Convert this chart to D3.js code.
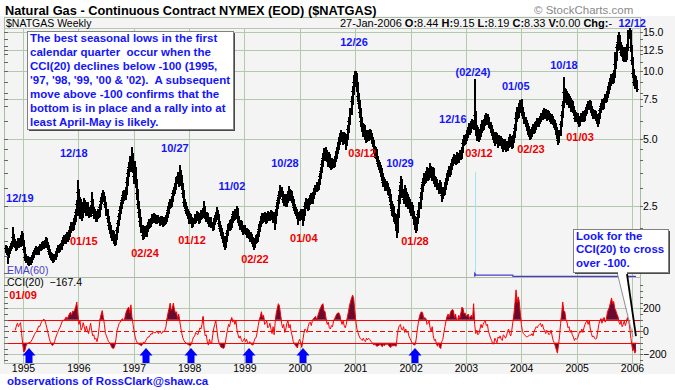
<!DOCTYPE html>
<html>
<head>
<meta charset="utf-8">
<script src="https://cdn.jsdelivr.net/npm/d3@7"></script>
<style>
    body { margin: 0; background: #fff; }
    svg { display: block; }
</style>
</head>
<body>
<svg id="chart" width="675" height="390"></svg>
<script>
(function () {
    // ---- data: weekly bars, first bar is the week ending 1994-09-02 ----
    const firstWeek = '1994-09-02';
    const lastOpen = 8.44;

    const closes = [
        /*1994*/ 1.62,1.56,1.50,1.58,1.62,1.66,1.70,1.82,1.74,1.68,1.64,1.70,1.74,1.68,1.80,1.85,1.72,1.60,
        /*1995*/ 1.48,1.44,1.46,1.42,1.40,1.44,1.42,1.47,1.50,1.55,1.58,1.60,1.56,1.62,1.66,1.63,1.68,1.70,1.66,1.72,1.76,1.70,1.64,1.58,1.52,1.48,1.50,1.44,1.47,1.52,1.58,1.62,1.60,1.66,1.64,1.70,1.76,1.80,1.74,1.82,1.86,1.80,1.88,1.96,2.05,2.00,2.12,2.20,2.35,2.55,2.90,2.45,
        /*1996*/ 2.40,2.55,2.30,2.42,2.60,2.48,2.35,2.52,2.40,2.30,2.45,2.62,2.40,2.28,2.32,2.20,2.26,2.35,2.30,2.48,2.62,2.75,2.82,2.70,2.55,2.35,2.20,2.05,1.98,1.90,1.82,1.88,1.78,1.72,1.80,1.95,2.10,2.25,2.40,2.50,2.65,2.80,2.75,2.90,3.20,3.50,3.75,3.95,3.80,4.20,3.70,3.40,
        /*1997*/ 3.60,3.20,2.85,2.55,2.35,2.15,2.00,1.85,1.90,1.95,1.88,1.98,2.05,2.12,2.08,2.15,2.22,2.18,2.26,2.20,2.15,2.22,2.18,2.12,2.20,2.15,2.10,2.18,2.14,2.20,2.28,2.40,2.50,2.60,2.55,2.70,2.85,2.95,3.05,3.25,3.40,3.20,3.55,3.35,3.10,2.85,2.60,2.55,2.40,2.35,2.30,2.20,
        /*1998*/ 2.25,2.18,2.10,2.15,2.22,2.20,2.30,2.25,2.18,2.24,2.32,2.28,2.35,2.45,2.30,2.22,2.28,2.15,2.10,2.18,2.08,2.02,2.12,2.20,2.28,2.35,2.25,2.10,2.00,1.95,1.85,1.80,1.72,1.68,1.78,1.90,2.00,2.10,2.05,2.18,2.30,2.25,2.35,2.28,2.40,2.20,2.12,2.05,2.10,2.00,1.95,1.98,
        /*1999*/ 1.95,1.88,1.92,1.85,1.80,1.84,1.76,1.72,1.68,1.74,1.80,1.78,1.88,1.98,2.08,2.15,2.25,2.20,2.28,2.18,2.24,2.30,2.22,2.26,2.32,2.25,2.20,2.30,2.15,2.35,2.50,2.65,2.80,2.95,2.85,2.70,2.62,2.75,2.58,2.68,2.82,2.90,2.75,2.85,2.70,2.62,2.48,2.40,2.35,2.28,2.22,2.30,2.35,
        /*2000*/ 2.30,2.22,2.35,2.50,2.60,2.55,2.48,2.62,2.70,2.75,2.65,2.80,2.90,3.00,3.10,3.05,3.20,3.40,3.60,3.85,4.10,4.30,4.20,4.35,4.15,4.00,4.20,3.90,3.80,3.95,3.85,4.05,4.20,4.40,4.60,4.85,5.10,5.25,5.05,4.90,5.20,5.00,4.80,5.10,5.50,6.00,6.60,7.40,8.20,9.00,9.60,9.20,
        /*2001*/ 8.60,7.80,7.20,6.60,6.00,5.70,5.40,5.60,5.20,5.00,5.30,5.10,5.35,5.20,5.00,4.80,4.50,4.30,4.40,4.10,3.90,3.80,3.70,3.60,3.40,3.20,3.25,3.05,3.10,2.95,2.90,2.75,2.55,2.40,2.45,2.25,2.20,2.10,1.95,2.30,2.65,2.95,3.20,2.85,2.70,2.95,2.60,2.75,2.55,2.62,2.45,2.40,
        /*2002*/ 2.45,2.30,2.20,2.08,2.00,2.15,2.30,2.50,2.75,3.00,3.20,3.35,3.30,3.45,3.55,3.40,3.55,3.70,3.50,3.40,3.60,3.30,3.20,3.25,3.10,3.00,3.15,2.95,2.80,2.95,2.90,3.05,3.20,3.35,3.50,3.60,3.55,3.75,3.90,4.00,4.10,4.00,4.20,4.05,4.15,4.30,4.20,4.45,4.80,5.00,4.90,5.05,
        /*2003*/ 5.20,5.40,5.60,5.45,5.70,5.90,5.80,6.40,5.60,5.20,5.40,5.10,5.25,5.50,5.80,5.65,5.90,6.10,6.20,6.00,6.15,5.80,5.60,5.40,5.20,5.00,4.90,5.15,4.95,4.80,5.00,4.85,4.95,4.70,4.60,4.85,4.75,4.60,4.70,4.90,5.00,4.85,4.75,4.95,5.20,5.60,6.20,6.60,6.40,6.90,7.10,6.90,
        /*2004*/ 6.70,6.40,6.10,5.90,5.70,5.50,5.35,5.20,5.30,5.45,5.60,5.50,5.70,5.80,5.95,5.85,6.00,6.10,6.30,6.45,6.55,6.40,6.50,6.30,6.45,6.35,6.20,6.10,6.20,6.00,5.85,5.75,5.50,5.25,4.95,5.30,5.80,6.40,7.10,8.10,7.60,8.00,7.40,7.70,7.20,7.50,6.90,7.20,6.80,6.60,6.20,6.35,6.10,
        /*2005*/ 5.90,6.10,6.30,6.20,6.40,6.20,6.50,6.70,6.90,7.10,6.95,7.20,6.80,6.60,6.40,6.50,6.30,6.10,6.00,6.30,6.70,7.00,7.20,7.00,7.40,7.60,7.50,7.80,8.20,8.60,8.90,9.30,9.20,9.60,10.80,11.60,12.80,13.60,14.10,13.00,12.20,12.60,11.70,11.80,12.30,11.60,12.70,14.80,15.10,12.80,11.20,9.80,
        /*2006*/ 9.00,9.20,8.80,8.33
    ];

    const highs = [
        /*1994*/ 1.66,1.64,1.58,1.61,1.65,1.70,1.74,2.00,1.86,1.77,1.71,1.74,1.78,1.77,1.84,1.93,1.88,1.75,
        /*1995*/ 1.63,1.51,1.49,1.48,1.45,1.47,1.46,1.50,1.53,1.58,1.62,1.64,1.63,1.65,1.69,1.68,1.71,1.74,1.72,1.75,1.80,1.78,1.72,1.66,1.60,1.55,1.53,1.52,1.50,1.55,1.61,1.66,1.65,1.69,1.69,1.73,1.80,1.84,1.82,1.86,1.91,1.89,1.92,2.02,2.12,2.10,2.18,2.27,2.42,2.64,3.25,2.95,
        /*1996*/ 2.72,2.68,2.60,2.50,2.70,2.65,2.55,2.60,2.58,2.46,2.52,2.88,2.68,2.45,2.40,2.36,2.32,2.42,2.40,2.54,2.70,2.84,2.92,2.88,2.75,2.60,2.40,2.25,2.10,2.04,1.95,1.94,1.92,1.82,1.86,2.00,2.16,2.32,2.48,2.58,2.74,2.90,2.92,3.02,3.35,3.65,3.92,4.15,4.10,4.56,4.30,3.90,
        /*1997*/ 3.95,3.70,3.30,2.95,2.62,2.42,2.22,2.05,1.96,2.02,1.99,2.04,2.10,2.18,2.17,2.20,2.28,2.27,2.31,2.30,2.24,2.27,2.26,2.22,2.25,2.24,2.19,2.23,2.22,2.25,2.34,2.46,2.57,2.67,2.66,2.76,2.92,3.04,3.14,3.34,3.52,3.48,3.80,3.62,3.42,3.15,2.92,2.68,2.60,2.48,2.42,2.36,
        /*1998*/ 2.32,2.29,2.22,2.20,2.28,2.27,2.36,2.34,2.28,2.30,2.38,2.37,2.42,2.62,2.50,2.34,2.33,2.31,2.20,2.23,2.21,2.12,2.17,2.26,2.34,2.46,2.39,2.28,2.14,2.05,1.98,1.90,1.83,1.76,1.82,1.95,2.06,2.16,2.15,2.24,2.37,2.36,2.42,2.40,2.48,2.44,2.25,2.16,2.16,2.13,2.05,2.04,
        /*1999*/ 2.04,1.98,1.97,1.95,1.89,1.90,1.87,1.80,1.76,1.78,1.85,1.86,1.93,2.04,2.14,2.22,2.32,2.31,2.34,2.32,2.30,2.36,2.34,2.31,2.38,2.36,2.29,2.35,2.33,2.42,2.58,2.74,2.90,3.10,3.02,2.90,2.76,2.82,2.80,2.75,2.90,3.05,2.96,2.94,2.90,2.76,2.66,2.54,2.46,2.40,2.33,2.36,2.42,
        /*2000*/ 2.42,2.36,2.42,2.58,2.70,2.68,2.62,2.70,2.78,2.84,2.82,2.88,2.98,3.08,3.20,3.18,3.30,3.50,3.72,3.98,4.25,4.50,4.45,4.55,4.42,4.22,4.32,4.25,3.98,4.06,4.02,4.15,4.32,4.52,4.75,5.00,5.25,5.42,5.35,5.12,5.32,5.28,5.06,5.24,5.70,6.25,6.80,7.70,8.60,9.50,10.00,9.95,
        /*2001*/ 9.80,8.90,8.00,7.40,6.80,6.20,5.85,5.80,5.70,5.35,5.45,5.42,5.50,5.45,5.28,5.08,4.90,4.60,4.55,4.48,4.18,4.00,3.90,3.80,3.68,3.48,3.36,3.30,3.22,3.16,3.04,2.96,2.80,2.62,2.55,2.50,2.32,2.26,2.14,2.40,2.78,3.10,3.40,3.28,2.95,3.08,3.00,2.86,2.82,2.72,2.68,2.55,
        /*2002*/ 2.58,2.52,2.36,2.25,2.14,2.22,2.38,2.60,2.86,3.12,3.32,3.48,3.46,3.58,3.70,3.62,3.68,3.88,3.76,3.58,3.72,3.66,3.38,3.36,3.30,3.16,3.24,3.20,3.00,3.04,3.04,3.14,3.30,3.46,3.62,3.74,3.72,3.88,4.04,4.14,4.24,4.20,4.34,4.30,4.26,4.42,4.40,4.58,4.95,5.18,5.12,5.24,
        /*2003*/ 5.45,5.60,5.85,5.75,5.95,6.10,6.05,9.20,6.60,5.75,5.62,5.50,5.45,5.70,6.00,5.98,6.12,6.35,6.50,6.35,6.40,6.25,5.92,5.72,5.50,5.32,5.15,5.35,5.25,5.05,5.18,5.12,5.10,5.00,4.82,4.98,4.95,4.85,4.88,5.05,5.20,5.10,4.98,5.12,5.40,5.80,6.45,6.90,6.85,7.15,7.40,7.30,
        /*2004*/ 7.50,6.90,6.55,6.25,6.05,5.85,5.65,5.50,5.50,5.62,5.78,5.75,5.88,5.98,6.15,6.10,6.18,6.30,6.50,6.68,6.80,6.70,6.72,6.62,6.65,6.60,6.48,6.35,6.40,6.30,6.12,6.00,5.85,5.60,5.35,5.45,5.95,6.60,7.35,9.40,8.40,8.30,8.15,7.95,7.85,7.75,7.60,7.40,7.30,6.95,6.70,6.55,6.50,
        /*2005*/ 6.25,6.30,6.50,6.45,6.60,6.55,6.70,6.90,7.10,7.35,7.25,7.40,7.30,6.95,6.75,6.70,6.62,6.40,6.25,6.45,6.85,7.20,7.45,7.35,7.60,7.85,7.80,8.05,8.45,8.90,9.30,9.70,9.75,10.10,12.20,12.00,13.20,14.50,14.90,14.40,13.40,13.00,12.80,12.30,12.80,12.50,13.20,15.30,15.50,15.20,13.10,11.50,
        /*2006*/ 10.20,9.60,9.45,9.15
    ];

    const lows = [
        /*1994*/ 1.57,1.53,1.40,1.48,1.55,1.60,1.63,1.66,1.70,1.64,1.60,1.62,1.67,1.65,1.66,1.77,1.68,1.56,
        /*1995*/ 1.46,1.41,1.42,1.39,1.37,1.38,1.39,1.41,1.45,1.48,1.53,1.55,1.53,1.54,1.60,1.60,1.61,1.65,1.63,1.64,1.70,1.67,1.61,1.55,1.49,1.45,1.46,1.41,1.42,1.45,1.50,1.56,1.57,1.58,1.61,1.62,1.68,1.73,1.71,1.72,1.79,1.76,1.78,1.85,1.93,1.96,1.98,2.08,2.16,2.30,2.50,2.30,
        /*1996*/ 2.22,2.35,2.18,2.25,2.38,2.40,2.28,2.30,2.33,2.24,2.26,2.40,2.34,2.22,2.22,2.15,2.16,2.22,2.24,2.27,2.44,2.58,2.70,2.64,2.48,2.30,2.14,2.00,1.92,1.85,1.77,1.78,1.72,1.68,1.70,1.78,1.92,2.06,2.20,2.35,2.45,2.60,2.68,2.70,2.85,3.12,3.42,3.66,3.62,3.75,3.55,3.20,
        /*1997*/ 3.30,3.05,2.70,2.45,2.25,2.05,1.92,1.78,1.80,1.86,1.84,1.85,1.94,2.01,2.03,2.04,2.11,2.13,2.14,2.15,2.10,2.11,2.13,2.07,2.09,2.10,2.05,2.07,2.09,2.10,2.16,2.24,2.35,2.45,2.48,2.50,2.65,2.80,2.88,3.00,3.18,3.10,3.15,3.25,3.00,2.76,2.52,2.46,2.34,2.28,2.22,2.12,
        /*1998*/ 2.14,2.12,2.02,2.05,2.12,2.14,2.17,2.19,2.12,2.14,2.20,2.22,2.24,2.30,2.24,2.16,2.17,2.10,2.04,2.06,2.02,1.97,1.99,2.08,2.16,2.24,2.19,2.04,1.94,1.89,1.80,1.74,1.66,1.62,1.65,1.75,1.86,1.96,1.99,2.02,2.14,2.18,2.20,2.22,2.24,2.14,2.06,1.99,2.00,1.94,1.89,1.90,
        /*1999*/ 1.90,1.83,1.84,1.80,1.75,1.77,1.71,1.67,1.62,1.65,1.71,1.73,1.75,1.85,1.94,2.04,2.11,2.14,2.16,2.12,2.13,2.20,2.17,2.18,2.22,2.19,2.14,2.16,1.98,2.12,2.30,2.45,2.60,2.74,2.78,2.62,2.55,2.57,2.50,2.52,2.63,2.76,2.68,2.70,2.62,2.55,2.42,2.33,2.28,2.22,2.08,2.17,2.24,
        /*2000*/ 2.20,2.06,2.18,2.30,2.45,2.48,2.42,2.44,2.56,2.64,2.58,2.60,2.74,2.84,2.94,2.96,3.00,3.14,3.34,3.55,3.78,4.02,4.05,4.10,3.98,3.80,3.92,3.75,3.66,3.72,3.74,3.80,3.98,4.12,4.32,4.52,4.76,5.00,4.92,4.76,4.82,4.88,4.50,4.72,5.02,5.40,5.85,6.45,7.20,8.00,8.80,8.70,
        /*2001*/ 8.20,7.40,6.90,6.30,5.70,5.45,5.15,5.25,5.00,4.85,4.90,4.98,5.00,5.05,4.85,4.65,4.35,4.15,4.20,3.98,3.78,3.66,3.58,3.45,3.28,3.08,3.10,2.95,2.96,2.85,2.80,2.65,2.45,2.30,2.32,2.16,2.10,1.98,1.83,1.92,2.25,2.60,2.88,2.75,2.58,2.65,2.50,2.52,2.45,2.48,2.36,2.30,
        /*2002*/ 2.32,2.22,2.10,1.98,1.92,1.96,2.10,2.25,2.45,2.70,2.92,3.12,3.18,3.22,3.38,3.30,3.32,3.48,3.40,3.28,3.32,3.20,3.08,3.10,2.98,2.88,2.92,2.86,2.65,2.74,2.82,2.84,2.98,3.14,3.28,3.42,3.44,3.48,3.66,3.82,3.92,3.88,3.92,3.96,3.96,4.06,4.08,4.12,4.38,4.70,4.76,4.82,
        /*2003*/ 4.95,5.10,5.30,5.30,5.38,5.60,5.55,5.70,5.30,4.95,5.05,4.92,5.00,5.15,5.40,5.50,5.55,5.80,5.98,5.85,5.90,5.65,5.40,5.22,5.02,4.85,4.72,4.80,4.80,4.60,4.70,4.70,4.72,4.55,4.45,4.50,4.58,4.42,4.48,4.60,4.78,4.68,4.55,4.62,4.88,5.10,5.50,6.05,6.20,6.30,6.70,6.60,
        /*2004*/ 6.50,6.20,5.90,5.70,5.50,5.30,5.15,5.00,5.05,5.18,5.35,5.35,5.40,5.58,5.70,5.70,5.75,5.88,6.00,6.18,6.30,6.22,6.25,6.12,6.15,6.15,6.02,5.92,5.95,5.82,5.65,5.55,5.30,5.05,4.75,4.85,5.20,5.70,6.30,7.00,7.30,7.40,7.20,7.25,7.00,7.05,6.70,6.75,6.60,6.40,6.00,6.05,5.90,
        /*2005*/ 5.75,5.80,6.00,6.05,6.08,6.05,6.10,6.40,6.55,6.80,6.80,6.85,6.60,6.40,6.25,6.25,6.10,5.90,5.70,5.90,6.20,6.60,6.90,6.85,6.90,7.30,7.30,7.40,7.70,8.05,8.40,8.75,8.90,9.00,9.50,10.40,11.30,12.50,13.30,12.60,11.90,11.80,11.30,11.20,11.50,11.20,11.40,12.50,14.20,12.40,10.90,9.50,
        /*2006*/ 8.70,8.60,8.50,8.19
    ];

    // CCI(20), one value per week starting at bar index 10
    const cciFirstIndex = 10;
    const cciValues = [
        /*1994*/ 10,45,70,40,60,75,-20,-110,
        /*1995*/ -180,-170,-130,-105,-110,-95,-100,-85,-70,-50,-30,-10,-5,20,45,40,65,85,100,105,90,60,20,-20,-60,-90,-110,-125,-115,-90,-60,-30,-10,15,30,55,80,100,90,110,125,105,130,150,165,140,175,170,185,215,255,150,
        /*1996*/ 60,90,10,30,75,40,-5,45,10,-20,20,70,5,-40,-30,-70,-60,-90,-50,30,110,150,180,120,60,-20,-40,-70,-90,-100,-120,-140,-150,-145,-120,-60,10,40,70,80,100,110,90,105,150,180,200,210,160,230,120,60,
        /*1997*/ 0,-50,-80,-100,-110,-115,-120,-125,-110,-95,-100,-80,-65,-50,-50,-35,-20,-25,-5,-10,-15,0,-5,-20,0,-10,-20,0,-5,10,40,110,160,200,245,180,200,245,190,160,170,110,150,90,30,-20,-60,-80,-95,-100,-110,-115,
        /*1998*/ -120,-125,-110,-80,-50,-45,-10,-20,-30,0,30,20,60,130,20,-40,-30,-90,-120,-70,-100,-110,-40,20,60,90,20,-60,-100,-120,-140,-140,-150,-140,-100,-40,10,60,40,90,120,80,100,60,90,10,-30,-60,-40,-70,-90,-80,
        /*1999*/ -60,-90,-70,-100,-110,-90,-110,-115,-120,-90,-60,-55,-10,50,100,130,170,120,140,60,70,90,30,40,70,20,-20,40,-30,80,160,200,240,220,150,70,30,60,-10,20,70,90,30,60,0,-40,-90,-110,-120,-135,-145,-90,-70,
        /*2000*/ -100,-140,-80,-20,20,10,-10,40,70,80,50,90,110,120,130,100,130,160,190,210,230,240,180,170,110,60,80,30,20,50,40,90,110,130,150,160,160,140,90,60,90,50,30,60,120,170,220,260,290,315,280,180,
        /*2001*/ 90,20,-10,-40,-60,-70,-80,-60,-80,-90,-60,-75,-60,-70,-85,-95,-110,-120,-105,-125,-130,-125,-120,-115,-125,-135,-115,-125,-110,-115,-110,-125,-135,-140,-115,-130,-120,-125,-130,-40,20,50,60,20,10,40,-10,20,-10,0,-40,-60,
        /*2002*/ -80,-100,-110,-120,-115,-60,20,80,130,160,170,160,110,120,110,60,70,90,30,0,40,-40,-80,-70,-110,-130,-100,-140,-150,-90,-70,-10,40,90,130,150,120,160,180,190,180,120,150,90,100,140,110,160,210,200,150,160,
        /*2003*/ 130,140,150,110,130,140,110,240,60,-20,10,-30,-20,20,60,30,60,80,90,50,60,0,-30,-60,-80,-110,-110,-60,-80,-100,-50,-60,-40,-70,-80,-30,-40,-60,-40,0,20,-20,-40,10,80,150,250,360,250,300,260,160,
        /*2004*/ 60,0,-20,-30,-40,-50,-45,-40,-30,-35,-20,-40,0,20,40,30,50,60,70,40,60,20,10,-20,10,-10,-30,-20,10,-40,-80,-100,-130,-160,-190,-120,-40,70,150,255,180,170,100,80,30,40,-10,10,-30,-50,-80,-60,-70,
        /*2005*/ -60,-30,0,-10,20,-10,30,60,80,90,60,90,20,-20,-50,-40,-60,-70,-60,0,60,90,110,70,110,120,80,100,160,190,210,250,290,240,260,200,180,150,130,80,60,90,40,60,90,50,80,120,100,40,-40,-110,
        /*2006*/ -170,-150,-190,-167.4
    ];

    // axis ticks
    const priceTicks = [2.5, 5, 7.5, 10, 12.5, 15];
    const priceMinorTicks = [1.25, 1.5, 1.75, 2, 3, 3.5, 4, 4.5, 6, 7, 8, 9, 11, 12, 13, 14];
    const cciTicks = [-200, 0, 200];
    const cciMinorTicks = [-250, -150, -100, -50, 50, 100, 150, 250, 300, 350, 400];
    const yearTicks = [1995, 1996, 1997, 1998, 1999, 2000, 2001, 2002, 2003, 2004, 2005, 2006];

    // seasonal high / low annotations (anchored in date / price)
    const highLabelText = ['12/19', '12/18', '10/27', '11/02', '10/28', '12/26', '10/29', '12/16', '(02/24)', '01/05', '10/18', '12/12'];
    const highLabelDate = ['1994-12-11', '1995-12-02', '1997-09-29', '1998-10-10', '1999-09-25', '2000-12-24', '2001-10-23', '2002-10-07', '2003-02-17', '2003-11-26', '2004-10-09', '2006-01-02'];
    const highLabelPrice = [2.71, 4.33, 4.55, 3.07, 3.90, 13.5, 3.90, 6.15, 9.90, 8.57, 10.64, 16.45];

    const lowLabelText = ['01/15', '02/24', '01/12', '02/22', '01/04', '03/12', '01/28', '03/12', '02/23', '01/03'];
    const lowLabelDate = ['1996-02-06', '1997-03-16', '1998-01-20', '1999-03-11', '2000-01-28', '2001-02-15', '2002-01-30', '2003-03-28', '2004-03-05', '2005-01-23'];
    const lowLabelPrice = [1.74, 1.536, 1.76, 1.444, 1.794, 4.33, 1.74, 4.33, 4.51, 5.10];

    const cciLabelText = ['01/09'];
    const cciLabelDate = ['1995-01-01'];
    const cciLabelValue = [318];

    // blue arrows: CCI(20) below -100 in the first quarter
    const arrowDates = ['1995-02-09', '1997-03-21', '1998-01-14', '1999-01-31', '2000-01-23', '2002-01-30'];

    // volume spike and its EMA(60)
    const volumeDates = ['2003-03-01'];
    const volumeValues = [100];
    const emaDates = ['2003-02-27', '2003-03-01', '2003-03-08', '2003-11-06', '2003-11-08', '2006-01-27'];
    const emaValues = [0, 3.0, 1.4, 1.4, 0.2, 0.2];

    const noteLines = [
        'The best seasonal lows in the first',
        'calendar quarter  occur when the',
        'CCI(20) declines below -100 (1995,',
        "'97, '98, '99, '00 & '02).  A subsequent",
        'move above -100 confirms that the',
        'bottom is in place and a rally into at',
        'least April-May is likely.'
    ];
    const noteLines2 = ['Look for the', 'CCI(20) to cross', 'over -100.'];

    // ---- layout ----
    const FONT = 'Arial, "Liberation Sans", Helvetica, sans-serif';
    const GRID = '#b4c8ae';
    const BLUE = '#1414ff';
    const RED = '#ee0000';
    const left = 4, right = 640;
    const priceTop = 17, headerBottom = 28, priceBottom = 277, cciBottom = 363;

    const parse = d3.timeParse('%Y-%m-%d');
    const x = d3.scaleTime()
        .domain([new Date(1995, 0, 1), new Date(2006, 0, 1)])
        .range([23, 632]);
    const y = d3.scaleLog().domain([2.5, 15]).range([206, 32]);
    const yCci = d3.scaleLinear().domain([-200, 200]).range([354.3, 308.3]);
    const yVol = d3.scaleLinear().domain([0, 100]).range([276.5, 172]);

    const t0 = parse(firstWeek);
    const bars = closes.map((c, i) => ({
        date: d3.timeDay.offset(t0, 7 * i),
        open: i === 0 ? c : closes[i - 1],
        high: highs[i],
        low: lows[i],
        close: c
    }));
    bars[bars.length - 1].open = lastOpen;
    const last = bars[bars.length - 1];

    const cci = cciValues.map((v, k) => ({ date: bars[k + cciFirstIndex].date, v: v }));

    const svg = d3.select('#chart').style('font-family', FONT);

    // backgrounds
    svg.append('rect').attr('width', 675).attr('height', 390).attr('fill', '#fff');
    svg.append('rect').attr('x', 0).attr('y', 16).attr('width', 675).attr('height', 358).attr('fill', '#f4f4f4');

    const defs = svg.append('defs');
    defs.append('clipPath').attr('id', 'clip-price')
        .append('rect').attr('x', left).attr('y', headerBottom).attr('width', right - left).attr('height', priceBottom - headerBottom);
    defs.append('clipPath').attr('id', 'clip-cci')
        .append('rect').attr('x', left).attr('y', priceBottom).attr('width', right - left).attr('height', cciBottom - priceBottom);

    // gridlines
    const grid = svg.append('g').attr('stroke', GRID).attr('stroke-width', 1).attr('shape-rendering', 'crispEdges');
    grid.selectAll('.vx')
        .data(yearTicks)
        .enter()
        .append('line')
        .attr('x1', d => Math.round(x(new Date(d, 0, 1))) + 0.5)
        .attr('x2', d => Math.round(x(new Date(d, 0, 1))) + 0.5)
        .attr('y1', headerBottom)
        .attr('y2', cciBottom);
    grid.selectAll('.hp')
        .data(priceTicks)
        .enter()
        .append('line')
        .attr('x1', left).attr('x2', right)
        .attr('y1', d => Math.round(y(d)) + 0.5)
        .attr('y2', d => Math.round(y(d)) + 0.5);
    grid.selectAll('.hc')
        .data(cciTicks.filter(d => d !== 0))
        .enter()
        .append('line')
        .attr('x1', left).attr('x2', right)
        .attr('y1', d => Math.round(yCci(d)) + 0.5)
        .attr('y2', d => Math.round(yCci(d)) + 0.5);
    grid.append('line').attr('x1', left).attr('x2', right).attr('y1', headerBottom + 0.5).attr('y2', headerBottom + 0.5);

    // panel frames
    svg.append('rect')
        .attr('x', left + 0.5).attr('y', priceTop + 0.5)
        .attr('width', right - left).attr('height', priceBottom - priceTop)
        .attr('fill', 'none').attr('stroke', '#a9bba4').attr('shape-rendering', 'crispEdges');
    svg.append('rect')
        .attr('x', left + 0.5).attr('y', priceBottom + 0.5)
        .attr('width', right - left).attr('height', cciBottom - priceBottom)
        .attr('fill', 'none').attr('stroke', '#a9bba4').attr('shape-rendering', 'crispEdges');

    // volume spike + EMA(60)
    const priceLayer = svg.append('g').attr('clip-path', 'url(#clip-price)');
    priceLayer.selectAll('.vol')
        .data(volumeDates.map((d, i) => ({ date: parse(d), v: volumeValues[i] })))
        .enter()
        .append('line')
        .attr('x1', d => Math.round(x(d.date)) + 0.5)
        .attr('x2', d => Math.round(x(d.date)) + 0.5)
        .attr('y1', yVol(0))
        .attr('y2', d => yVol(d.v))
        .attr('stroke', '#9fe6ee')
        .attr('shape-rendering', 'crispEdges');
    priceLayer.append('path')
        .datum(emaDates.map((d, i) => ({ date: parse(d), v: emaValues[i] })))
        .attr('fill', 'none')
        .attr('stroke', '#4a3cc8')
        .attr('stroke-width', 1.3)
        .attr('d', d3.line().x(d => x(d.date)).y(d => yVol(d.v)));

    // OHLC bars: 2px wide stems, 2px open/close ticks
    const stems = d3.path();
    const ticks = d3.path();
    bars.forEach(b => {
        const px = Math.round(x(b.date));
        const yo = Math.round(y(b.open)) + 0.5;
        const yc = Math.round(y(b.close)) + 0.5;
        stems.moveTo(px + 0.5, Math.floor(y(b.high)));
        stems.lineTo(px + 0.5, Math.ceil(y(b.low)) + 1);
        ticks.moveTo(px - 2, yo);
        ticks.lineTo(px, yo);
        ticks.moveTo(px + 1, yc);
        ticks.lineTo(px + 3, yc);
    });
    priceLayer.append('path')
        .attr('d', stems.toString())
        .attr('fill', 'none')
        .attr('stroke', '#000')
        .attr('stroke-width', 2)
        .attr('shape-rendering', 'crispEdges');
    priceLayer.append('path')
        .attr('d', ticks.toString())
        .attr('fill', 'none')
        .attr('stroke', '#000')
        .attr('stroke-width', 1)
        .attr('shape-rendering', 'crispEdges');

    // CCI panel
    const cciLayer = svg.append('g').attr('clip-path', 'url(#clip-cci)');
    const upper = d3.area()
        .x(d => x(d.date))
        .y0(yCci(100))
        .y1(d => yCci(Math.max(d.v, 100)));
    const lower = d3.area()
        .x(d => x(d.date))
        .y0(yCci(-100))
        .y1(d => yCci(Math.min(d.v, -100)));
    cciLayer.append('path').datum(cci).attr('d', upper).attr('fill', '#6a0a2e');
    cciLayer.append('path').datum(cci).attr('d', lower).attr('fill', '#6a0a2e');

    cciLayer.selectAll('.lvl')
        .data([100, 0, -100])
        .enter()
        .append('line')
        .attr('x1', left).attr('x2', right)
        .attr('y1', d => Math.round(yCci(d)) + 0.5)
        .attr('y2', d => Math.round(yCci(d)) + 0.5)
        .attr('stroke', '#ff0000')
        .attr('stroke-dasharray', d => d === 0 ? '5,3' : null)
        .attr('shape-rendering', 'crispEdges');

    cciLayer.append('path')
        .datum(cci)
        .attr('fill', 'none')
        .attr('stroke', '#ff0000')
        .attr('stroke-width', 1)
        .attr('d', d3.line().x(d => x(d.date)).y(d => yCci(d.v)));

    // axes
    function styleAxis(g) {
        g.select('.domain').remove();
        g.selectAll('.tick line').attr('stroke', '#666').attr('shape-rendering', 'crispEdges');
        g.selectAll('text').attr('fill', '#000').style('font-size', '10.5px').style('font-family', FONT);
    }
    svg.append('g')
        .attr('transform', `translate(${right},0)`)
        .call(d3.axisRight(y).tickValues(priceTicks).tickFormat(d3.format('.1f')).tickSize(3).tickPadding(0))
        .call(styleAxis);
    svg.append('g')
        .attr('transform', `translate(${right},0)`)
        .call(d3.axisRight(y).tickValues(priceMinorTicks).tickFormat('').tickSize(3))
        .call(styleAxis);
    svg.append('g')
        .attr('transform', `translate(${left},0)`)
        .call(d3.axisRight(y).tickValues(priceTicks.concat(priceMinorTicks)).tickFormat('').tickSize(4))
        .call(styleAxis);
    svg.append('g')
        .attr('transform', `translate(${right},0)`)
        .call(d3.axisRight(yCci).tickValues(cciTicks).tickFormat(d3.format('d')).tickSize(3).tickPadding(0))
        .call(styleAxis);
    svg.append('g')
        .attr('transform', `translate(${right},0)`)
        .call(d3.axisRight(yCci).tickValues(cciMinorTicks).tickFormat('').tickSize(3))
        .call(styleAxis);
    svg.append('g')
        .attr('transform', `translate(${left},0)`)
        .call(d3.axisRight(yCci).tickValues(cciTicks.concat(cciMinorTicks)).tickFormat('').tickSize(4))
        .call(styleAxis);
    svg.append('g')
        .attr('transform', `translate(0,${cciBottom})`)
        .call(d3.axisBottom(x).tickValues(yearTicks.map(d => new Date(d, 0, 1))).tickFormat(d3.timeFormat('%Y')).tickSize(0).tickPadding(2))
        .call(styleAxis);

    // title and header
    svg.append('text')
        .attr('x', 5).attr('y', 14.5)
        .style('font-size', '12.8px').style('font-weight', 'bold')
        .text('Natural Gas - Continuous Contract NYMEX (EOD) ($NATGAS)');
    svg.append('text')
        .attr('x', 534).attr('y', 14)
        .attr('fill', '#8a8a8a')
        .style('font-size', '11.5px')
        .text('\u00a9 StockCharts.com');
    svg.append('text')
        .attr('x', 6).attr('y', 26.5)
        .style('font-size', '10.5px')
        .text('$NATGAS Weekly');

    const fmt = d3.format('.2f');
    const header = svg.append('text').attr('x', 340).attr('y', 26.5).style('font-size', '11px').style('white-space', 'pre');
    const headerParts = [
        [d3.timeFormat('%d-%b-%Y')(last.date) + ' ', false],
        ['O:', true], [fmt(last.open) + ' ', false],
        ['H:', true], [fmt(last.high) + ' ', false],
        ['L:', true], [fmt(last.low) + ' ', false],
        ['C:', true], [fmt(last.close) + ' ', false],
        ['V:', true], ['0.00 ', false],
        ['Chg:', true], ['-', false]
    ];
    headerParts.forEach(([t, b]) => {
        header.append('tspan').style('font-weight', b ? 'bold' : 'normal').text(t);
    });

    svg.append('text')
        .attr('x', 7).attr('y', 273.5)
        .attr('fill', '#4a3cc8')
        .style('font-size', '10.5px')
        .text('EMA(60)');
    svg.append('text')
        .attr('x', 7).attr('y', 286)
        .style('font-size', '10.5px')
        .style('white-space', 'pre')
        .text('CCI(20)  ' + d3.format('.1f')(cciValues[cciValues.length - 1]));

    // date annotations
    function addLabels(texts, dates, values, scale, color) {
        svg.append('g')
            .selectAll('text')
            .data(texts.map((t, i) => ({ t: t, date: parse(dates[i]), v: values[i] })))
            .enter()
            .append('text')
            .attr('x', d => x(d.date))
            .attr('y', d => scale(d.v))
            .attr('dy', '0.36em')
            .attr('text-anchor', 'middle')
            .attr('fill', color)
            .style('font-size', '11px')
            .style('font-weight', 'bold')
            .text(d => d.t);
    }
    addLabels(highLabelText, highLabelDate, highLabelPrice, y, BLUE);
    addLabels(lowLabelText, lowLabelDate, lowLabelPrice, y, RED);
    addLabels(cciLabelText, cciLabelDate, cciLabelValue, yCci, RED);

    // arrows
    const arrowShape = [[0, -15], [6.5, -7.5], [3.5, -7.5], [3.5, 0], [-3.5, 0], [-3.5, -7.5], [-6.5, -7.5]];
    svg.append('g')
        .selectAll('path')
        .data(arrowDates.map(parse))
        .enter()
        .append('path')
        .attr('transform', d => `translate(${Math.round(x(d))},${cciBottom})`)
        .attr('d', d3.line()(arrowShape) + 'Z')
        .attr('fill', '#0000ff');

    // note boxes
    function noteBox(bx, by, bw, bh, lines, lineGap) {
        const g = svg.append('g');
        g.append('rect').attr('x', bx + 2).attr('y', by + 2).attr('width', bw).attr('height', bh).attr('fill', '#4a4a4a');
        g.append('rect').attr('x', bx + 0.5).attr('y', by + 0.5).attr('width', bw).attr('height', bh)
            .attr('fill', '#fff').attr('stroke', '#808080').attr('shape-rendering', 'crispEdges');
        g.selectAll('text')
            .data(lines)
            .enter()
            .append('text')
            .attr('x', bx + 3)
            .attr('y', (d, i) => by + 11 + i * lineGap)
            .attr('fill', BLUE)
            .style('font-size', '11.5px')
            .style('font-weight', 'bold')
            .style('white-space', 'pre')
            .text(d => d);
        return g;
    }
    noteBox(27, 31, 206, 98, noteLines, 14);

    // callout tail towards the latest CCI reading
    const tipX = x(last.date) - 2;
    const tipY = yCci(-50);
    svg.append('path')
        .attr('d', `M617,272 L627,272 L${tipX + 1},${tipY} Z`)
        .attr('fill', '#fff');
    svg.append('line').attr('x1', 617).attr('y1', 272).attr('x2', tipX - 1).attr('y2', tipY)
        .attr('stroke', '#909090').attr('stroke-width', 1);
    svg.append('line').attr('x1', 627).attr('y1', 274).attr('x2', tipX + 2).attr('y2', tipY - 1)
        .attr('stroke', '#000').attr('stroke-width', 1.8);
    noteBox(573, 229, 95, 43, noteLines2, 13.4);
    svg.append('rect').attr('x', 618).attr('y', 272).attr('width', 9).attr('height', 2).attr('fill', '#fff');

    // footer
    svg.append('text')
        .attr('x', 7).attr('y', 385)
        .attr('fill', BLUE)
        .style('font-size', '11.5px')
        .style('font-weight', 'bold')
        .text('observations of RossClark@shaw.ca');
})();
</script>
</body>
</html>
